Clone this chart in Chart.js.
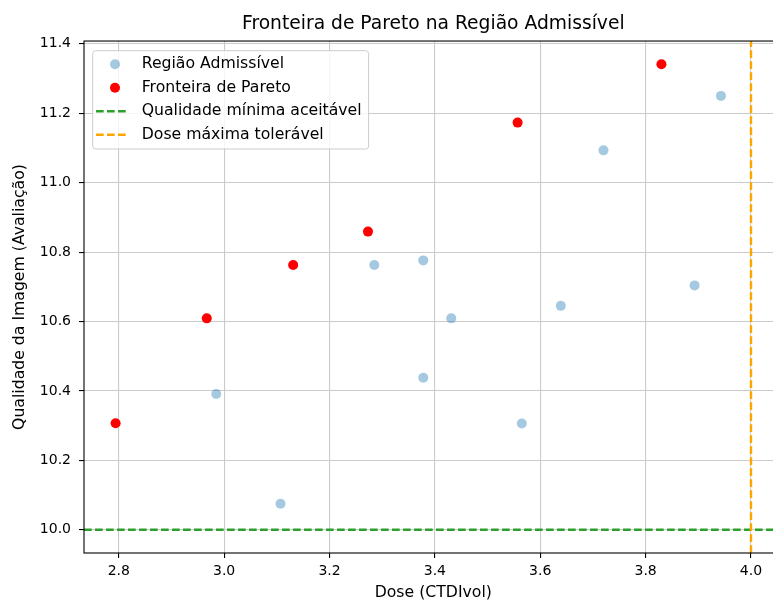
<!DOCTYPE html>
<html>
<head>
<meta charset="utf-8">
<script src="https://cdn.jsdelivr.net/npm/chart.js@4.4.1/dist/chart.umd.min.js"></script>
<style>
  html, body { margin: 0; padding: 0; background: #fff; overflow: hidden; }
  #wrap { width: 790px; height: 601px; }
</style>
</head>
<body>
<div id="wrap"><canvas id="chart-pareto" width="790" height="601"></canvas></div>
<script>
'use strict';

//
// Data
//

var admissivelX = [2.985, 3.107, 3.285, 3.378, 3.378, 3.431, 3.565, 3.639, 3.720, 3.893, 3.943];
var admissivelY = [10.391, 10.075, 10.763, 10.776, 10.438, 10.609, 10.306, 10.645, 11.093, 10.704, 11.250];

var paretoX = [2.794, 2.967, 3.131, 3.273, 3.557, 3.830];
var paretoY = [10.307, 10.609, 10.763, 10.859, 11.173, 11.341];

var qualidadeMinima = 10.0;
var doseMaxima = 4.0;

var xTicks = [2.8, 3.0, 3.2, 3.4, 3.6, 3.8, 4.0];
var yTicks = [10.0, 10.2, 10.4, 10.6, 10.8, 11.0, 11.2, 11.4];

var xMin = 2.734, xMax = 4.060;
var yMin = 9.933, yMax = 11.408;

var FONT = 'DejaVu Sans';

function toPoints(xs, ys) {
	return xs.map(function(x, i) { return {x: x, y: ys[i]}; });
}

//
// Plugins
//

// matplotlib-like frame (all four spines)
var framePlugin = {
	id: 'frame',
	afterDatasetsDraw: function(chart) {
		var a = chart.chartArea, ctx = chart.ctx;
		ctx.save();
		ctx.strokeStyle = '#000';
		ctx.lineWidth = 1.1;
		ctx.strokeRect(a.left, a.top, a.right - a.left, a.bottom - a.top);
		ctx.restore();
	}
};

// legend box in the upper left corner of the plot
var boxLegendPlugin = {
	id: 'boxLegend',
	afterDraw: function(chart) {
		var ctx = chart.ctx;
		var sets = chart.data.datasets;
		var x0 = 92.7, y0 = 50.7, rowH = 23.5;
		var textX = 141.7;

		ctx.save();
		ctx.font = '15.7px "' + FONT + '"';
		var maxW = 0;
		sets.forEach(function(ds) { maxW = Math.max(maxW, ctx.measureText(ds.label).width); });
		var w = textX + maxW + 7 - x0, h = 98.3, r = 3;

		ctx.beginPath();
		ctx.moveTo(x0 + r, y0);
		ctx.arcTo(x0 + w, y0, x0 + w, y0 + h, r);
		ctx.arcTo(x0 + w, y0 + h, x0, y0 + h, r);
		ctx.arcTo(x0, y0 + h, x0, y0, r);
		ctx.arcTo(x0, y0, x0 + w, y0, r);
		ctx.closePath();
		ctx.fillStyle = 'rgba(255,255,255,0.8)';
		ctx.fill();
		ctx.strokeStyle = '#cccccc';
		ctx.lineWidth = 1;
		ctx.stroke();

		sets.forEach(function(ds, i) {
			var cy = y0 + 13.6 + i * rowH;
			if (ds.showLine) {
				ctx.beginPath();
				ctx.setLineDash(ds.borderDash);
				ctx.strokeStyle = ds.borderColor;
				ctx.lineWidth = ds.borderWidth;
				ctx.moveTo(96, cy);
				ctx.lineTo(129, cy);
				ctx.stroke();
				ctx.setLineDash([]);
			} else {
				ctx.beginPath();
				ctx.fillStyle = ds.backgroundColor;
				ctx.arc(115, cy, ds.pointRadius, 0, Math.PI * 2);
				ctx.fill();
			}
			ctx.fillStyle = '#000';
			ctx.textAlign = 'left';
			ctx.textBaseline = 'middle';
			ctx.fillText(ds.label, textX, cy);
		});
		ctx.restore();
	}
};

//
// Chart
//

var ParetoChart = (function() {

	var canvas = document.getElementById('chart-pareto');

	function init(el) {
		var dash = [7.7, 3.3];

		var chart = new Chart(el, {
			type: 'scatter',
			data: {
				datasets: [{
					label: 'Região Admissível',
					data: toPoints(admissivelX, admissivelY),
					backgroundColor: 'rgba(31,119,180,0.4)',
					borderWidth: 0,
					pointRadius: 5,
					order: 3
				}, {
					label: 'Fronteira de Pareto',
					data: toPoints(paretoX, paretoY),
					backgroundColor: '#ff0000',
					borderWidth: 0,
					pointRadius: 5,
					order: 2
				}, {
					label: 'Qualidade mínima aceitável',
					data: [{x: xMin, y: qualidadeMinima}, {x: xMax, y: qualidadeMinima}],
					showLine: true,
					borderColor: '#2ca02c',
					borderWidth: 2.4,
					borderDash: dash,
					pointRadius: 0,
					order: 1
				}, {
					label: 'Dose máxima tolerável',
					data: [{x: doseMaxima, y: yMin}, {x: doseMaxima, y: yMax}],
					showLine: true,
					borderColor: '#ffa500',
					borderWidth: 2.4,
					borderDash: dash,
					pointRadius: 0,
					order: 0
				}]
			},
			options: {
				responsive: false,
				animation: false,
				devicePixelRatio: 1,
				layout: {
					padding: {left: 0, right: 7.4, top: 0, bottom: 0}
				},
				plugins: {
					legend: {display: false},
					tooltip: {enabled: false},
					title: {
						display: true,
						text: 'Fronteira de Pareto na Região Admissível',
						fullSize: false,
						color: '#000',
						font: {family: FONT, size: 18.7, weight: 'normal'},
						padding: {top: 13.3, bottom: 5.3}
					}
				},
				scales: {
					x: {
						type: 'linear',
						min: xMin,
						max: xMax,
						afterBuildTicks: function(scale) {
							scale.ticks = xTicks.map(function(v) { return {value: v}; });
						},
						afterFit: function(scale) { scale.height = 48; },
						ticks: {
							color: '#000',
							padding: 4.5,
							font: {family: FONT, size: 14},
							maxRotation: 0,
							callback: function(v) { return Number(v).toFixed(1); }
						},
						grid: {color: '#cbcbcb', lineWidth: 1.1, tickColor: '#000', tickLength: 5, tickWidth: 1.1},
						border: {display: false},
						title: {
							display: true,
							text: 'Dose (CTDIvol)',
							color: '#000',
							font: {family: FONT, size: 15.7},
							padding: {top: 0, bottom: -1}
						}
					},
					y: {
						type: 'linear',
						min: yMin,
						max: yMax,
						afterBuildTicks: function(scale) {
							scale.ticks = yTicks.map(function(v) { return {value: v}; });
						},
						afterFit: function(scale) { scale.width = 84; },
						ticks: {
							color: '#000',
							padding: 8,
							font: {family: FONT, size: 14},
							callback: function(v) { return Number(v).toFixed(1); }
						},
						grid: {color: '#cbcbcb', lineWidth: 1.1, tickColor: '#000', tickLength: 5, tickWidth: 1.1},
						border: {display: false},
						title: {
							display: true,
							text: 'Qualidade da Imagem (Avaliação)',
							color: '#000',
							font: {family: FONT, size: 15.7},
							padding: {top: 10.6, bottom: 0}
						}
					}
				}
			},
			plugins: [framePlugin, boxLegendPlugin]
		});

		el.chart = chart;
	}

	if (canvas) {
		init(canvas);
	}

})();
</script>
</body>
</html>
